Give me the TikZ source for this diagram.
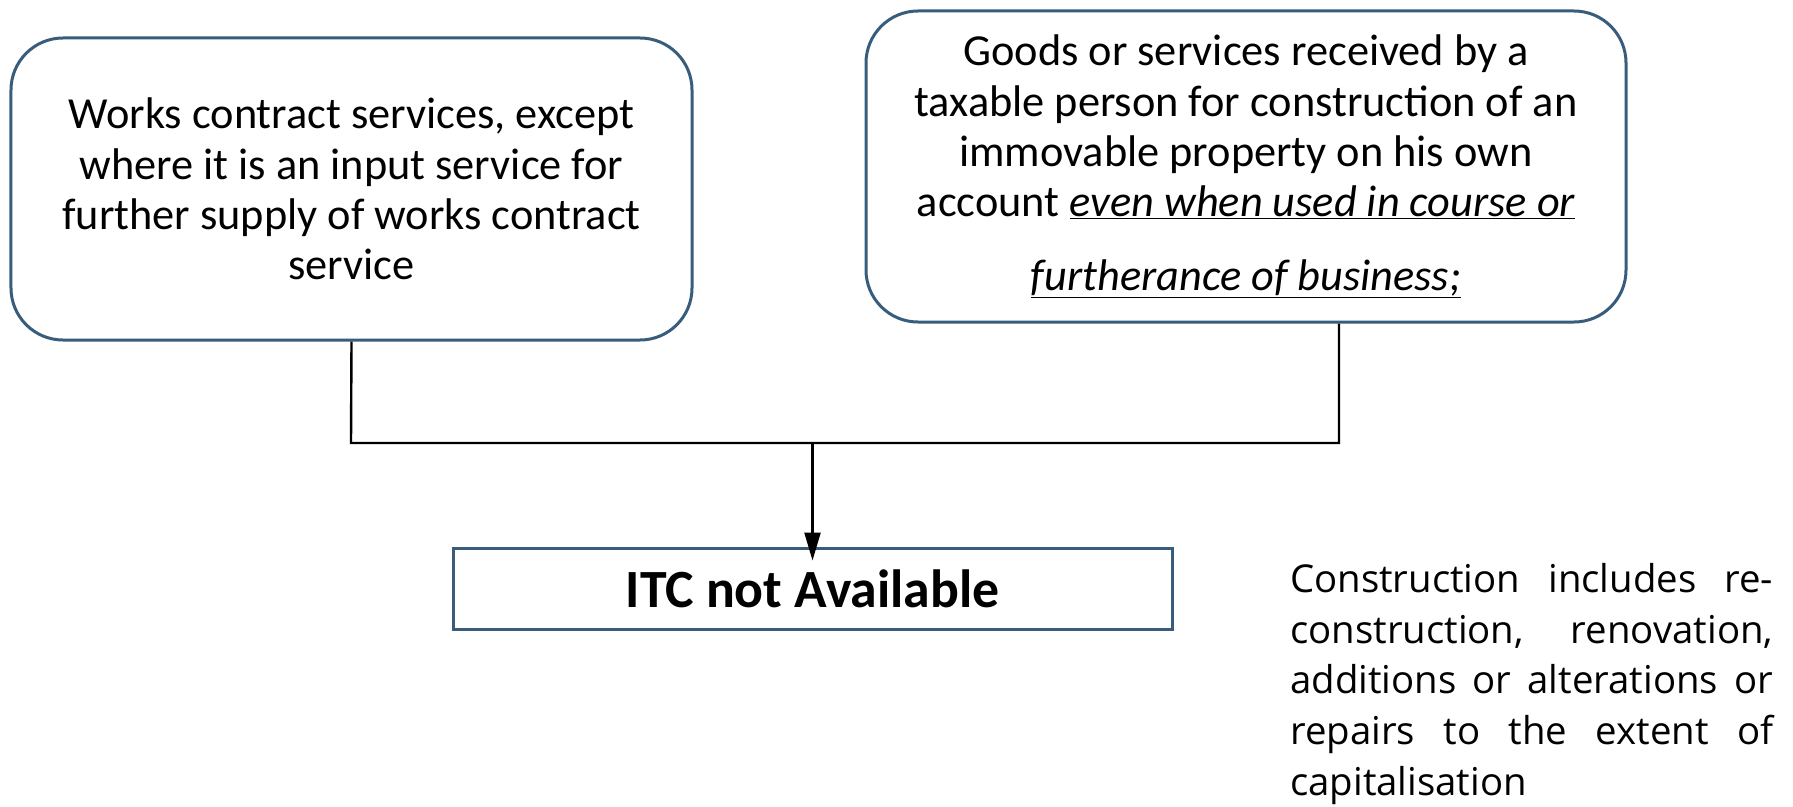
\documentclass[tikz,border=0pt]{standalone}
\usepackage{fontspec}
\setmainfont{Carlito}
\newfontfamily\notefont{Open Sans}
\usetikzlibrary{arrows.meta}
\definecolor{boxedge}{RGB}{56,93,124}
\begin{document}
\begin{tikzpicture}[x=1bp,y=-1bp,
  card/.style={draw=boxedge, line width=3bp, rounded corners=52bp, fill=white,
    align=center, inner sep=0, font=\fontsize{44.5}{50.5}\selectfont},
  resultbox/.style={draw=boxedge, line width=3bp, fill=white, inner sep=0,
    font=\bfseries\fontsize{54}{60}\selectfont},
  link/.style={draw=black, line width=2.4bp},
  notetext/.style={anchor=north west, inner sep=0, text width=483bp, align=justify,
    font=\notefont\fontsize{38.5}{51}\selectfont}
]
\useasboundingbox (0,0) rectangle (1793,807);

% source boxes
\node[card, minimum width=681bp, minimum height=302bp] (works) at (351.5,189)
  {Works contract services, except\\ where it is an input service for\\
   further supply of works contract\\ service};
\node[card, minimum width=760bp, minimum height=311bp] (goods) at (1246,166.5)
  {Goods or services received by a\\ taxable person for construction of an\\
   immovable property on his own\\ account \underline{\itshape even when used in course or}\\[23bp]
   \underline{\itshape furtherance of business;}};

% result box
\node[resultbox, minimum width=719bp, minimum height=81bp] (itc) at (812.5,588.5)
  {ITC not Available};

% joining lines
\coordinate (jl) at (351,443);
\coordinate (jr) at (1339,443);
\coordinate (jm) at (812.5,443);
\draw[link] (works.south) -- (jl) -- (jr) -- (goods.south -| jr);
\draw[link, -{Triangle[length=28bp,width=16bp]}] (jm) -- ([yshift=-14bp]itc.north);

% side note
\node[notetext] (note) at (1290,563)
  {\hyphenpenalty=10000 Construction includes re-\linebreak construction, renovation,\linebreak
   additions or alterations or\linebreak repairs to the extent of\linebreak capitalisation};
\end{tikzpicture}
\end{document}
